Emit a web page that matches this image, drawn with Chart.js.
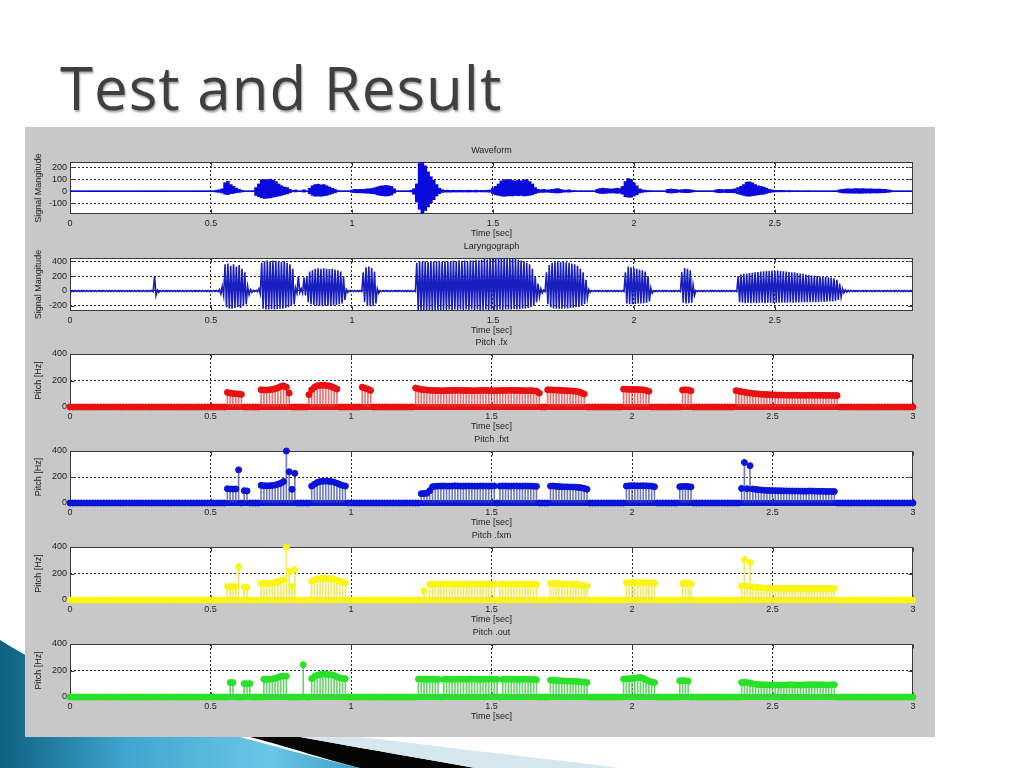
<!DOCTYPE html>
<html>
<head>
<meta charset="utf-8">
<title>Test and Result</title>
<script src="https://cdn.jsdelivr.net/npm/chart.js@4.4.1/dist/chart.umd.min.js"></script>
<style>
  html, body { margin:0; padding:0; }
  body { width:1024px; height:768px; position:relative; overflow:hidden; background:#ffffff; }
  #deco { position:absolute; left:0; top:0; }
  #slideTitle { position:absolute; left:60px; top:57px; margin:0; font-family:"Open Sans",Lato,sans-serif; font-weight:400; font-size:60px; letter-spacing:1px; line-height:1; color:#3f3f3f; text-shadow:1px 2px 2px rgba(0,0,0,0.35); white-space:nowrap; }
  #panel { position:absolute; left:25px; top:127px; width:910px; height:610px; background:#c8c8c8; }
  .sub { position:absolute; left:25px; width:910px; }
</style>
</head>
<body>
<svg id="deco" width="1024" height="768" viewBox="0 0 1024 768">
  <defs>
    <linearGradient id="blueSwoosh" x1="0" y1="0" x2="1" y2="0">
      <stop offset="0" stop-color="#0f5f80"/>
      <stop offset="0.35" stop-color="#3ea6cf"/>
      <stop offset="0.75" stop-color="#6cc6e6"/>
      <stop offset="1" stop-color="#3c9ec6"/>
    </linearGradient>
  </defs>
  <path d="M0,640 C80,690 200,730 360,768 L0,768 Z" fill="url(#blueSwoosh)"/>
  <path d="M250,737 L300,737 C360,748 420,758 475,768 L360,768 C320,758 285,746 250,737 Z" fill="#050505"/>
  <path d="M300,737 L360,737 C450,748 540,758 620,768 L475,768 C420,758 360,748 300,737 Z" fill="#d6e7ef"/>
</svg>
<h1 id="slideTitle">Test and Result</h1>
<div id="panel"></div>
<script>
// ---------------- DATA ----------------
const frameStep = 0.01; // 10 ms frames / envelope bins

const subplotTitles = ['Waveform', 'Laryngograph', 'Pitch .fx', 'Pitch .fxt', 'Pitch .fxm', 'Pitch .out'];
const xAxisLabel = 'Time [sec]';
const signalYLabel = 'Signal Mangitude';
const pitchYLabel = 'Pitch [Hz]';

const timeTicks = [0, 0.5, 1, 1.5, 2, 2.5, 3];
const timeTickLabels = ['0', '0.5', '1', '1.5', '2', '2.5', '3'];
const waveTicks = [-100, 0, 100, 200];
const waveTickLabels = ['-100', '0', '100', '200'];
const laryTicks = [-200, 0, 200, 400];
const laryTickLabels = ['-200', '0', '200', '400'];
const pitchTicks = [0, 200, 400];
const pitchTickLabels = ['0', '200', '400'];
const stemBaseline = 0; // Hz, stem plot baseline

// Waveform envelope (upper / lower) per 10 ms bin, t = 0.00 ... 2.98
const waveHi = [
  4,4,4,4,4,4,4,4,4,4, 4,4,4,4,4,4,4,4,4,4, 4,4,4,4,4,4,4,4,4,4, 4,4,4,4,4,4,4,4,4,4, 4,4,4,4,4,4,4,4,4,4,
  4,4,8,12,20,70,83,55,40,25,
  15,8,4,4,4,5,30,60,95,97,
  90,100,92,80,60,45,35,30,15,6,
  10,4,4,12,4,25,45,55,58,52,
  55,45,35,25,15,6,4,4,4,4,
  10,15,14,16,15,18,20,22,28,35,
  42,45,48,45,40,20,4,4,4,4,
  4,8,20,60,230,242,210,160,120,90,
  55,25,12,8,8,7,8,6,8,7,
  6,8,7,6,8,6,7,6,8,10,
  25,40,60,85,95,90,97,88,85,90,
  85,92,95,80,60,30,15,12,15,10,
  12,15,18,22,15,10,8,12,6,5,
  4,5,4,4,4,4,4,15,22,25,
  22,20,18,20,25,22,40,80,105,95,
  70,45,20,12,8,6,5,4,4,4,
  4,4,15,18,16,14,10,12,15,14,
  12,8,4,4,4,4,4,4,4,10,
  15,14,12,15,14,16,20,30,40,55,
  75,78,70,55,45,40,35,25,15,10,
  8,6,7,6,5,6,5,4,5,4,
  4,4,5,4,4,4,4,4,4,4,
  4,4,5,12,15,18,20,18,20,22,
  20,22,20,18,20,18,17,18,16,15,
  12,8,4,4,4,4,4,4,4
];
const waveLo = [
  -4,-4,-4,-4,-4,-4,-4,-4,-4,-4, -4,-4,-4,-4,-4,-4,-4,-4,-4,-4, -4,-4,-4,-4,-4,-4,-4,-4,-4,-4, -4,-4,-4,-4,-4,-4,-4,-4,-4,-4, -4,-4,-4,-4,-4,-4,-4,-4,-4,-4,
  -4,-4,-8,-10,-15,-25,-28,-20,-18,-12,
  -10,-6,-4,-4,-4,-4,-35,-45,-55,-60,
  -58,-55,-50,-45,-40,-35,-28,-22,-12,-5,
  -6,-4,-4,-8,-4,-20,-35,-42,-40,-42,
  -38,-35,-28,-20,-12,-5,-4,-4,-4,-4,
  -10,-12,-14,-13,-15,-16,-18,-20,-22,-30,
  -35,-38,-40,-38,-32,-15,-4,-4,-4,-4,
  -4,-6,-25,-90,-150,-189,-160,-130,-95,-70,
  -40,-20,-10,-8,-7,-8,-6,-7,-6,-7,
  -6,-7,-6,-6,-7,-5,-6,-6,-7,-8,
  -20,-30,-35,-40,-42,-40,-38,-40,-35,-38,
  -35,-40,-38,-35,-30,-20,-12,-10,-10,-8,
  -10,-12,-14,-15,-12,-8,-6,-8,-5,-4,
  -4,-4,-4,-4,-4,-4,-4,-12,-18,-20,
  -18,-15,-15,-15,-18,-16,-25,-45,-50,-50,
  -40,-30,-15,-10,-6,-5,-4,-4,-4,-4,
  -4,-4,-12,-15,-14,-12,-8,-10,-12,-12,
  -10,-6,-4,-4,-4,-4,-4,-4,-4,-8,
  -12,-12,-10,-12,-12,-13,-15,-22,-28,-35,
  -40,-42,-38,-35,-30,-28,-25,-18,-12,-8,
  -6,-5,-5,-5,-4,-5,-4,-4,-4,-4,
  -4,-4,-4,-4,-4,-4,-4,-4,-4,-4,
  -4,-4,-4,-10,-14,-15,-16,-16,-17,-16,
  -18,-17,-16,-15,-16,-14,-15,-14,-13,-12,
  -10,-7,-4,-4,-4,-4,-4,-4,-4
];

// Laryngograph envelope (upper / lower) per 10 ms bin, t = 0.00 ... 2.98
const laryHi = [
  5,5,5,5,5,5,5,5,5,5, 5,5,5,5,5,5,5,5,5,5,
  5,5,5,5,5,5,5,5,5,8,
  200,10,5,5,5,5,5,5,5,5,
  5,5,5,5,5,5,5,5,5,5,
  5,5,5,20,60,360,370,340,360,330,
  350,300,250,60,20,10,8,30,380,400,
  410,400,410,405,395,390,400,380,360,300,
  40,200,30,180,200,260,280,300,305,300,
  305,300,295,300,290,280,260,200,20,5,
  5,5,5,5,250,320,330,310,260,30,
  5,5,5,5,5,5,5,5,5,5,
  5,5,5,380,400,395,400,390,400,395,
  400,390,395,400,395,400,405,400,410,405,
  410,400,415,410,420,415,420,430,425,430,
  435,440,440,440,440,440,435,440,430,420,
  410,400,380,360,300,200,100,30,10,250,
  350,380,390,395,390,395,385,380,370,360,
  340,300,250,150,20,5,5,5,5,5,
  5,5,5,5,5,5,5,250,330,320,
  310,300,290,280,260,200,40,5,5,5,
  5,5,5,5,5,5,5,250,310,300,
  280,80,5,5,5,5,5,5,5,5,
  5,5,5,5,5,5,5,200,220,230,
  235,240,245,250,255,260,265,270,270,275,
  270,275,270,265,260,255,250,250,240,235,
  230,220,215,210,205,200,195,195,190,185,
  180,170,150,100,30,15,8,5,5,5,
  5,5,5,5,5,5,5,5,5,5,
  5,5,5,5,5,5,5,5,5
];
const laryLo = [
  -8,-8,-8,-8,-8,-8,-8,-8,-8,-8, -8,-8,-8,-8,-8,-8,-8,-8,-8,-8,
  -8,-8,-8,-8,-8,-8,-8,-8,-8,-8,
  -60,-20,-8,-8,-8,-8,-8,-8,-8,-8,
  -8,-8,-8,-8,-8,-8,-8,-8,-8,-8,
  -8,-8,-8,-40,-60,-220,-235,-240,-230,-220,
  -230,-200,-180,-50,-20,-10,-10,-40,-240,-250,
  -250,-245,-250,-245,-240,-240,-230,-220,-200,-180,
  -30,-20,-30,-60,-150,-180,-190,-200,-200,-205,
  -200,-200,-200,-195,-190,-180,-170,-120,-20,-8,
  -8,-8,-8,-8,-150,-200,-205,-200,-170,-30,
  -8,-8,-8,-8,-8,-8,-8,-8,-8,-8,
  -8,-8,-8,-260,-270,-260,-265,-255,-260,-255,
  -260,-260,-255,-255,-250,-255,-250,-255,-250,-255,
  -250,-255,-250,-255,-250,-255,-255,-250,-255,-250,
  -255,-255,-250,-255,-250,-250,-250,-245,-250,-245,
  -240,-240,-230,-220,-200,-150,-80,-30,-10,-180,
  -220,-235,-240,-240,-240,-235,-235,-230,-225,-220,
  -215,-200,-180,-100,-20,-8,-8,-8,-8,-8,
  -8,-8,-8,-8,-8,-8,-8,-170,-180,-180,
  -175,-170,-170,-165,-160,-140,-30,-8,-8,-8,
  -8,-8,-8,-8,-8,-8,-8,-160,-170,-165,
  -160,-60,-8,-8,-8,-8,-8,-8,-8,-8,
  -8,-8,-8,-8,-8,-8,-8,-150,-160,-165,
  -160,-165,-160,-165,-160,-160,-165,-160,-160,-165,
  -160,-160,-158,-160,-158,-155,-158,-155,-155,-150,
  -155,-150,-150,-148,-150,-148,-145,-148,-145,-140,
  -140,-135,-120,-80,-25,-15,-10,-8,-8,-8,
  -8,-8,-8,-8,-8,-8,-8,-8,-8,-8,
  -8,-8,-8,-8,-8,-8,-8,-8,-8
];

// Pitch tracks: voiced segments [start time (s), values per 10 ms frame (Hz)]; other frames are 0 Hz
const pitchFrameCount = 301; // 0.00 ... 3.00 s
const fxSegments = [
  [0.56, [110,105,102,100,98,95]],
  [0.68, [130,128,128,130,133,138,145,155,160,150,105]],
  [0.85, [93,130,150,160,163,165,163,160,155,145,135]],
  [1.04, [150,142,135,125]],
  [1.23, [143,138,133,130,128,126,125,124,124,123, 123,124,125,125,126,126,125,125,124,124, 123,123,124,124,125,125,124,124,123,123, 124,125,125,126,126,125,125,124,124,123, 123,124,122,120,105]],
  [1.70, [130,130,128,127,126,125,124,123,122,120,118,115,108,98]],
  [1.97, [135,134,133,133,132,132,130,130,125,118]],
  [2.18, [128,130,128,122]],
  [2.37, [123,120,115,112,108,105,102,100,98,96, 95,94,93,92,91,90,90,90,89,89, 89,89,88,88,88,88,89,89,88,88, 88,88,88,88,87,87,86]]
];
const fxtSegments = [
  [0.56, [110,108,107,108,255]],
  [0.62, [95,93]],
  [0.68, [136,133,132,133,135,138,145,152,165,400,240,105,228]],
  [0.86, [130,145,158,165,168,168,167,165,160,152,143,135,130]],
  [1.25, [72,73,75,95,125,128,130,130,131,130, 130,131,132,131,130,130,131,131,130,130, 130,131,131,130,130,130,131]],
  [1.53, [130,131,131,130,130,131,131,130,130,131,130,130,129,128]],
  [1.71, [130,131,128,126,125,124,124,123,123,122,120,118,112,106]],
  [1.98, [130,132,133,133,132,132,133,132,131,130,125]],
  [2.17, [125,128,128,126,124]],
  [2.39, [112,312,110,287,108,105,102,100,98,97, 96,95,95,94,94,93,93,92,92,92, 92,91,91,91,92,92,91,90,90,90, 89,89,89,88]]
];
const fxmSegments = [
  [0.56, [101,100,100,101,253]],
  [0.62, [96,95]],
  [0.68, [126,124,124,125,128,132,140,148,152,400,215,101,228]],
  [0.86, [140,152,158,162,164,164,163,160,156,150,142,135,130]],
  [1.26, [68]],
  [1.28, [118,119,119,120,120,121,120,120,120,121, 121,120,120,119,119,120,120,121,120,120, 119,119,120,120]],
  [1.53, [120,121,121,120,120,121,120,120,121,120,120,120,119,118]],
  [1.71, [125,126,124,122,121,120,120,119,118,118,116,113,108,105]],
  [1.98, [130,131,132,131,130,131,132,131,130,128,126]],
  [2.18, [125,127,126,124]],
  [2.39, [105,305,104,283,100,96,94,92,91,90, 90,89,89,89,88,88,89,88,88,88, 87,88,88,88,89,88,88,87,88,88, 88,87,88,88]]
];
const outSegments = [
  [0.57, [109,109]],
  [0.62, [101,100,101]],
  [0.69, [134,133,134,136,140,148,155,158,157]],
  [0.83, [243]],
  [0.86, [139,155,165,170,172,172,170,168,162,152,145,140,138]],
  [1.24, [136,135,134,134,133,134,134,133]],
  [1.33, [134,135,135,134,134,135,135,134,134,135, 135,134,134,133,134,134,135,135,134,134]],
  [1.54, [134,134,135,134,134,133,134,134,135,134,133,132,130]],
  [1.71, [128,126,124,123,122,121,120,120,119,118,117,115,112,110]],
  [1.97, [136,137,138,140,142,145,148,140,130,120,112,109]],
  [2.17, [122,124,123,120]],
  [2.39, [110,110,109,105,100,96,94,93,92,92, 91,91,91,90,90,90,91,92,92,91, 91,90,91,92,92,93,93,92,92,92, 91,91,92,93]]
];

// ---------------- BUILD ----------------
function pitchTrack(segments) {
  const vals = new Array(pitchFrameCount).fill(0);
  segments.forEach(([t0, vs]) => {
    const i0 = Math.round(t0 / frameStep);
    vs.forEach((v, k) => { vals[i0 + k] = v; });
  });
  return vals.map((v, i) => ({ x: +(i * frameStep).toFixed(2), y: v }));
}
// envelope per bin as floating bar [lower, upper]
function envelope(hi, lo) {
  return hi.map((h, i) => ({ x: +(i * frameStep).toFixed(2), y: [lo[i], h] }));
}
// each bin: positive peak followed by negative trough (one oscillation per bin)
function oscillation(hi, lo) {
  const pts = [];
  hi.forEach((h, i) => {
    pts.push({ x: i * frameStep, y: h });
    pts.push({ x: i * frameStep + frameStep / 2, y: lo[i] });
  });
  return pts;
}

const FONT = { family: '"Liberation Sans", Arial, Helvetica, sans-serif', size: 9 };
const TEXT = '#222222';
const GRID = '#2a2a2a';

const matlabAxes = {
  id: 'matlabAxes',
  beforeDraw(chart) {
    const a = chart.chartArea, ctx = chart.ctx;
    ctx.save();
    ctx.fillStyle = '#ffffff';
    ctx.fillRect(a.left, a.top, a.right - a.left, a.bottom - a.top);
    ctx.restore();
  },
  beforeDatasetsDraw(chart) {
    const a = chart.chartArea, ctx = chart.ctx;
    const L = Math.round(a.left) + 0.5, R = Math.round(a.right) - 0.5;
    const T = Math.round(a.top) + 0.5, B = Math.round(a.bottom) - 0.5;
    ctx.save();
    ctx.strokeStyle = '#3a3a3a';
    ctx.lineWidth = 1;
    ctx.setLineDash([]);
    ctx.strokeRect(L, T, R - L, B - T);
    ctx.beginPath();
    chart.scales.x.ticks.forEach(t => {
      const px = Math.round(chart.scales.x.getPixelForValue(t.value)) + 0.5;
      ctx.moveTo(px, B); ctx.lineTo(px, B - 4);
      ctx.moveTo(px, T); ctx.lineTo(px, T + 4);
    });
    chart.scales.y.ticks.forEach(t => {
      const py = Math.round(chart.scales.y.getPixelForValue(t.value)) + 0.5;
      ctx.moveTo(L, py); ctx.lineTo(L + 4, py);
      ctx.moveTo(R, py); ctx.lineTo(R - 4, py);
    });
    ctx.stroke();
    ctx.restore();
  }
};

function makeSubplot(cfg) {
  const height = 17 + cfg.plotH + 26;
  const div = document.createElement('div');
  div.className = 'sub';
  div.style.top = (cfg.plotTop - 17) + 'px';
  div.style.height = height + 'px';
  const cv = document.createElement('canvas');
  cv.width = 910; cv.height = height;
  cv.style.width = '910px'; cv.style.height = height + 'px';
  div.appendChild(cv);
  document.body.appendChild(div);

  const edgeTransparent = (lo, hi) => (c) => {
    if (!c.tick) return GRID;
    const v = c.tick.value;
    return (Math.abs(v - lo) < 1e-9 || Math.abs(v - hi) < 1e-9) ? 'rgba(0,0,0,0)' : GRID;
  };

  return new Chart(cv.getContext('2d'), {
    type: 'bar',
    data: { datasets: cfg.datasets },
    plugins: [matlabAxes],
    options: {
      responsive: false,
      animation: false,
      events: [],
      layout: { padding: { left: 0, right: 22, top: 0, bottom: 0 } },
      plugins: {
        legend: { display: false },
        tooltip: { enabled: false },
        title: {
          display: true, text: cfg.title, fullSize: false,
          font: { ...FONT, weight: 'normal' }, color: TEXT,
          padding: { top: 0, bottom: 6.2 }
        }
      },
      scales: {
        x: {
          type: 'linear', min: 0, max: cfg.xMax, offset: false,
          afterBuildTicks: s => { s.ticks = timeTicks.filter(v => v <= cfg.xMax).map(v => ({ value: v })); },
          afterFit: s => { s.height = 26; },
          ticks: {
            callback: v => { const i = timeTicks.indexOf(v); return i >= 0 ? timeTickLabels[i] : ''; },
            font: FONT, color: TEXT, padding: 4, maxRotation: 0, autoSkip: false
          },
          grid: { color: edgeTransparent(0, cfg.xMax), lineWidth: 1, drawTicks: false, offset: false },
          border: { display: false, dash: [2, 2] },
          title: { display: true, text: xAxisLabel, font: FONT, color: TEXT, padding: { top: 0, bottom: 0.6 } }
        },
        y: {
          type: 'linear', min: cfg.yMin, max: cfg.yMax,
          afterBuildTicks: s => { s.ticks = cfg.yTicks.map(v => ({ value: v })); },
          afterFit: s => { s.width = 45; },
          ticks: {
            callback: v => { const i = cfg.yTicks.indexOf(v); return i >= 0 ? cfg.yTickLabels[i] : ''; },
            font: FONT, color: TEXT, padding: 3, autoSkip: false
          },
          grid: { color: edgeTransparent(cfg.yMin, cfg.yMax), lineWidth: 1, drawTicks: false },
          border: { display: false, dash: [2, 2] },
          title: { display: true, text: cfg.yLabel, font: FONT, color: TEXT, padding: { top: 8, bottom: 0 } }
        }
      }
    }
  });
}

function waveDatasets(hi, lo, color) {
  return [{
    type: 'bar', data: envelope(hi, lo), backgroundColor: color,
    barThickness: 3, borderWidth: 0, borderSkipped: false, grouped: false
  }];
}
function laryDatasets(hi, lo, color, width) {
  return [{
    type: 'line', data: oscillation(hi, lo), borderColor: color, borderWidth: width,
    pointRadius: 0, tension: 0, fill: false
  }];
}
function stemDatasets(segments, color, stemColor, xMax) {
  const track = pitchTrack(segments);
  return [
    { type: 'line', data: [{ x: 0, y: stemBaseline }, { x: xMax, y: stemBaseline }],
      borderColor: color, borderWidth: 6, pointRadius: 0, clip: false, order: 2 },
    { type: 'bar', data: track, backgroundColor: stemColor, barThickness: 1, borderWidth: 0, grouped: false, order: 1 },
    { type: 'scatter', data: track, showLine: false, pointRadius: 3, pointStyle: 'circle',
      pointBackgroundColor: color, pointBorderColor: color, pointBorderWidth: 1, clip: false, order: 0 }
  ];
}

const plotTops = [162, 258, 354, 451, 547, 644];
const plotHeights = [52, 53, 53, 52, 53, 53];

makeSubplot({ title: subplotTitles[0], plotTop: plotTops[0], plotH: plotHeights[0], xMax: 2.99,
  yMin: -189, yMax: 242, yTicks: waveTicks, yTickLabels: waveTickLabels, yLabel: signalYLabel,
  datasets: waveDatasets(waveHi, waveLo, 'rgb(10,10,220)') });
makeSubplot({ title: subplotTitles[1], plotTop: plotTops[1], plotH: plotHeights[1], xMax: 2.99,
  yMin: -270, yMax: 444, yTicks: laryTicks, yTickLabels: laryTickLabels, yLabel: signalYLabel,
  datasets: laryDatasets(laryHi, laryLo, 'rgb(25,30,190)', 1.6) });
makeSubplot({ title: subplotTitles[2], plotTop: plotTops[2], plotH: plotHeights[2], xMax: 3,
  yMin: 0, yMax: 400, yTicks: pitchTicks, yTickLabels: pitchTickLabels, yLabel: pitchYLabel,
  datasets: stemDatasets(fxSegments, 'rgb(232,16,16)', 'rgba(220,70,70,0.75)', 3) });
makeSubplot({ title: subplotTitles[3], plotTop: plotTops[3], plotH: plotHeights[3], xMax: 3,
  yMin: 0, yMax: 400, yTicks: pitchTicks, yTickLabels: pitchTickLabels, yLabel: pitchYLabel,
  datasets: stemDatasets(fxtSegments, 'rgb(10,20,215)', 'rgba(70,80,160,0.75)', 3) });
makeSubplot({ title: subplotTitles[4], plotTop: plotTops[4], plotH: plotHeights[4], xMax: 3,
  yMin: 0, yMax: 400, yTicks: pitchTicks, yTickLabels: pitchTickLabels, yLabel: pitchYLabel,
  datasets: stemDatasets(fxmSegments, 'rgb(250,245,20)', 'rgba(235,230,70,0.85)', 3) });
makeSubplot({ title: subplotTitles[5], plotTop: plotTops[5], plotH: plotHeights[5], xMax: 3,
  yMin: 0, yMax: 400, yTicks: pitchTicks, yTickLabels: pitchTickLabels, yLabel: pitchYLabel,
  datasets: stemDatasets(outSegments, 'rgb(40,225,40)', 'rgba(70,200,70,0.8)', 3) });
</script>
</body>
</html>
